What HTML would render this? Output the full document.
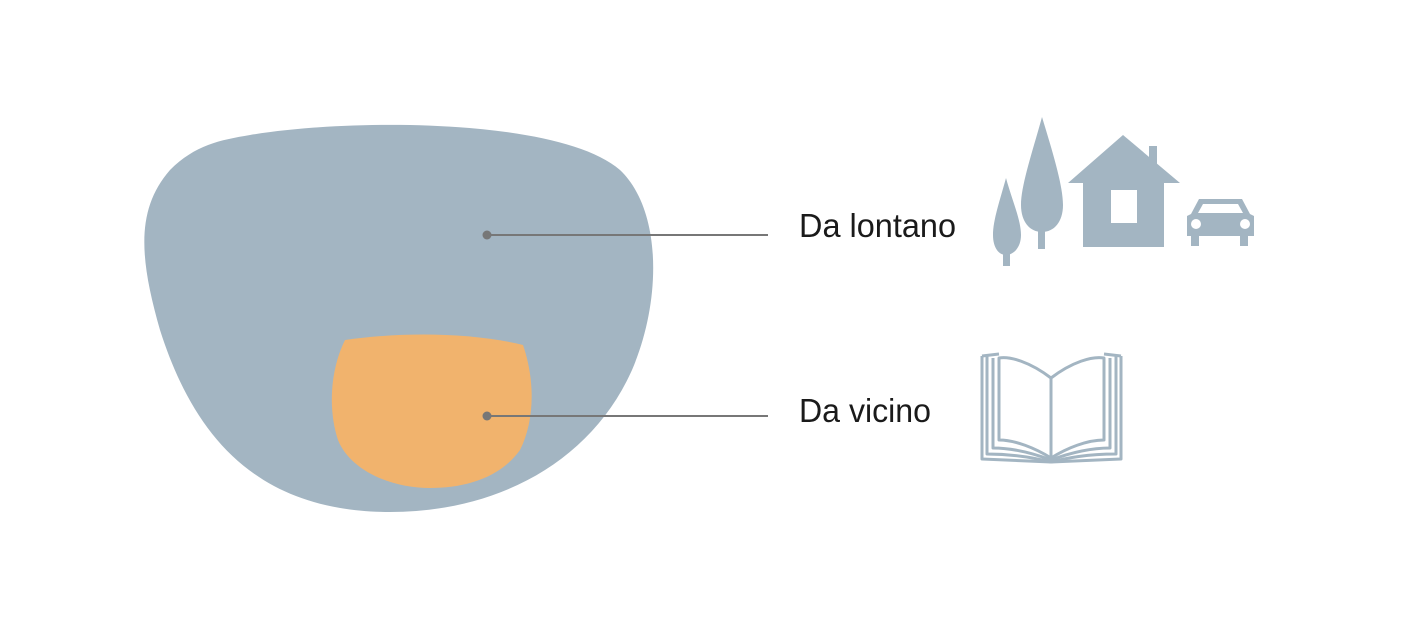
<!DOCTYPE html>
<html><head><style>html,body{margin:0;padding:0;background:#fff}svg{display:block}</style></head>
<body>
<svg width="1404" height="644" viewBox="0 0 1404 644" xmlns="http://www.w3.org/2000/svg">
<path d="M250,135 C350,118 560,118 620,170 C662,210 662,300 632,370 C592,460 500,512 390,512 C260,512 195,440 160,330 C140,260 135,210 170,170 C195,145 220,140 250,135 Z" fill="#a3b5c2"/>
<path d="M345,340 C400,332 470,332 523,345 C535,380 535,420 520,450 C500,478 465,488 430,488 C390,488 350,470 338,440 C328,410 330,370 345,340 Z" fill="#f1b36d"/>
<line x1="487" y1="235" x2="768" y2="235" stroke="#777" stroke-width="2"/>
<circle cx="487" cy="235" r="4.5" fill="#777"/>
<line x1="487" y1="416" x2="768" y2="416" stroke="#777" stroke-width="2"/>
<circle cx="487" cy="416" r="4.5" fill="#777"/>
<text x="799" y="237" font-family="Liberation Sans, sans-serif" font-size="33" fill="#1a1a1a" textLength="157" lengthAdjust="spacingAndGlyphs">Da lontano</text>
<text x="799" y="422" font-family="Liberation Sans, sans-serif" font-size="33" fill="#1a1a1a" textLength="132" lengthAdjust="spacingAndGlyphs">Da vicino</text>
<g fill="#a3b5c2">
<path d="M1006,178 C1000,200 993,220 993,235 C993,248 999,255 1006,255 C1013,255 1021,248 1021,235 C1021,220 1012,200 1006,178 Z"/>
<rect x="1003" y="250" width="7" height="16"/>
<path d="M1042,117 C1033,150 1021,185 1021,205 C1021,222 1030,232 1042,232 C1054,232 1063,222 1063,205 C1063,185 1052,150 1042,117 Z"/>
<rect x="1038" y="228" width="7" height="21"/>
<polygon points="1123,135 1180,183 1164,183 1164,247 1083,247 1083,183 1068,183"/>
<rect x="1149" y="146" width="8" height="20"/>
<path d="M1199,199 L1242,199 L1250,214 L1254,216 L1254,236 L1248,236 L1248,246 L1240,246 L1240,236 L1199,236 L1199,246 L1191,246 L1191,236 L1187,236 L1187,216 L1191,214 Z"/>
</g>
<rect x="1111" y="190" width="26" height="33" fill="#fff"/>
<path d="M1203,204 L1238,204 L1243,213 L1198,213 Z" fill="#fff"/>
<circle cx="1196" cy="224" r="5" fill="#fff"/>
<circle cx="1245" cy="224" r="5" fill="#fff"/>
<g fill="none" stroke="#a3b5c2" stroke-width="3" stroke-linejoin="round">
<path d="M1051,378 C1030,362 1010,356 999,358 L999,440 C1015,440 1035,448 1051,458 C1067,448 1087,440 1104,440 L1104,358 C1092,356 1072,362 1051,378 Z"/>
<line x1="1051" y1="378" x2="1051" y2="458"/>
<path d="M993,358 L993,448 C1015,448 1035,454 1051,460 C1067,454 1087,448 1110,448 L1110,358"/>
<path d="M987,356 L987,454 C1015,454 1035,458 1051,462 C1067,458 1087,454 1116,454 L1116,356"/>
<path d="M982,356 L982,459 L1051,462 L1121,459 L1121,356"/>
<path d="M982,356 L999,354 M1104,354 L1121,356"/>
</g>
</svg>
</body></html>
